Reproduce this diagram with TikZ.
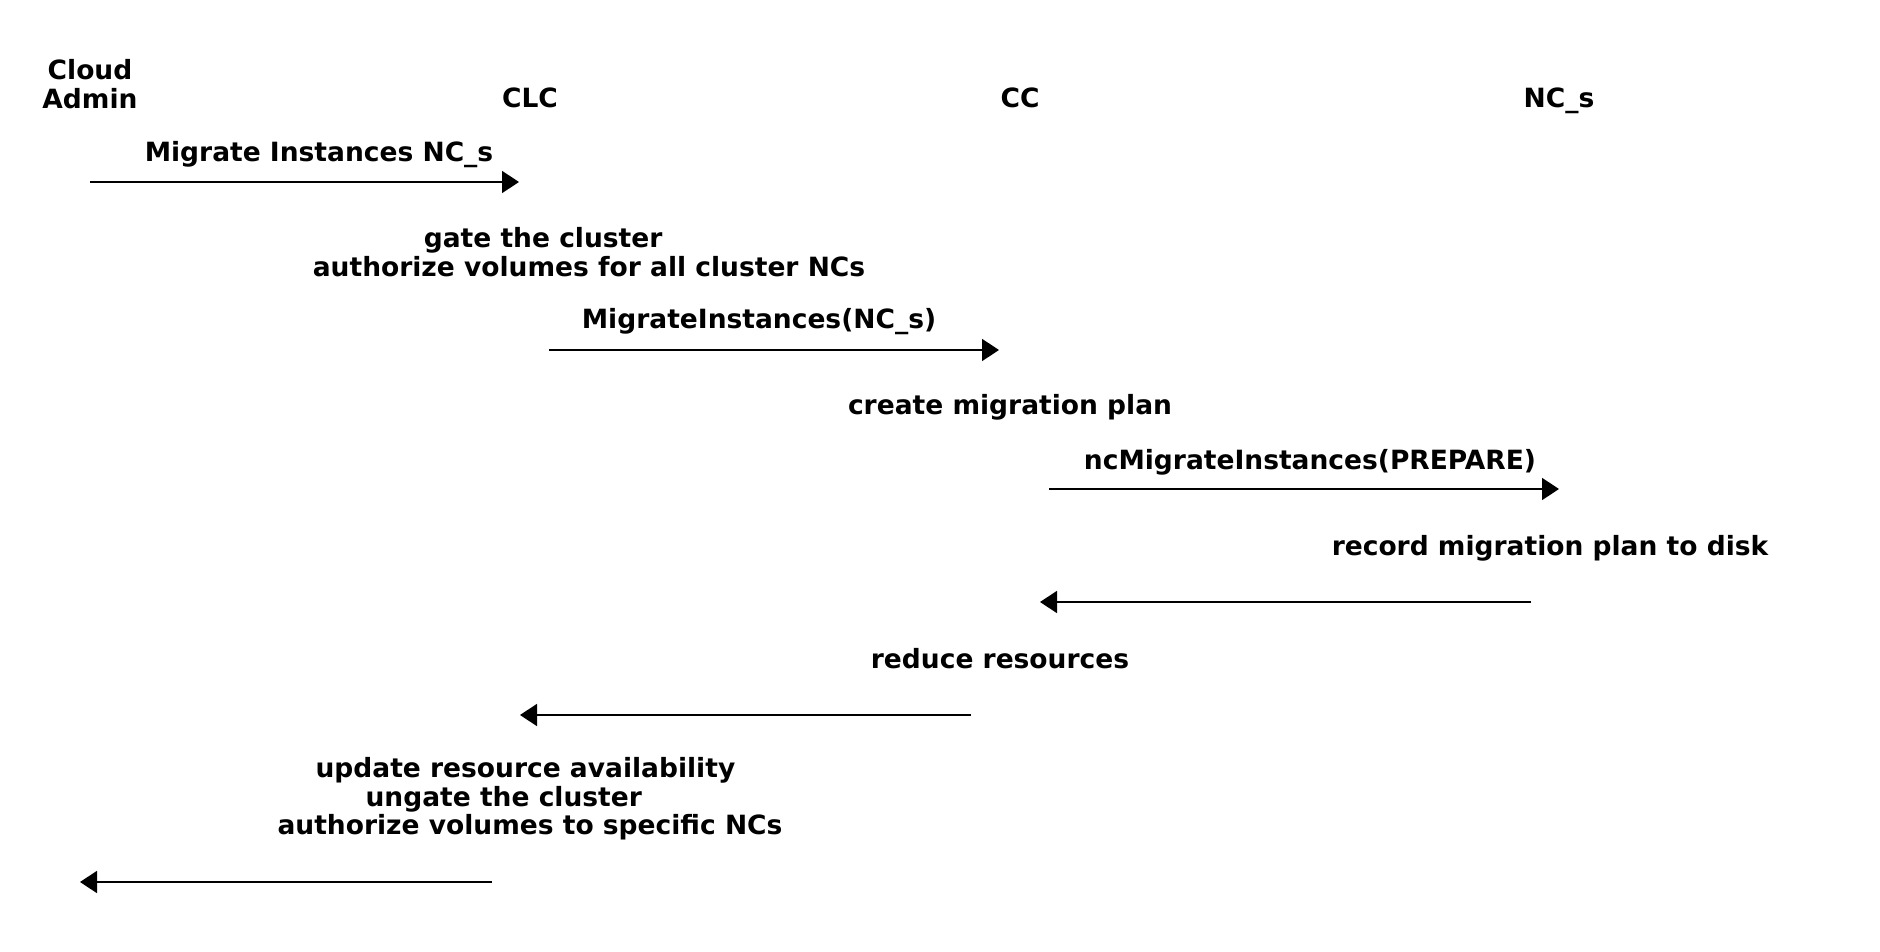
\documentclass[tikz,border=0pt]{standalone}
\usepackage{fontspec}
\setmainfont{DejaVu Sans}
\usetikzlibrary{arrows.meta}

\begin{document}
\begin{tikzpicture}[
            x = 1pt, y = -1pt, % pixel-like units, top down
            > = {Triangle[length=17pt,width=22pt]}, % arrow head style
            msg/.style = {->, line width=1.6pt},
            every node/.style = {font=\bfseries\fontsize{26.5}{28.5}\selectfont, inner sep=0pt}
        ]

        \useasboundingbox (0,0) rectangle (1880,952);

        % actors
        \node[align=center] (admin) at (90,84) {Cloud\\Admin};
        \node (clc) at (530,98) {CLC};
        \node (cc) at (1020,98) {CC};
        \node (ncs) at (1559,101) {NC\_s};

        % message ends
        \coordinate (a1s) at (90,182);   \coordinate (a1e) at (519,182);
        \coordinate (a2s) at (549,350);  \coordinate (a2e) at (999,350);
        \coordinate (a3s) at (1049,489); \coordinate (a3e) at (1559,489);
        \coordinate (a4s) at (1531,602); \coordinate (a4e) at (1040,602);
        \coordinate (a5s) at (971,715);  \coordinate (a5e) at (520,715);
        \coordinate (a6s) at (492,882);  \coordinate (a6e) at (80,882);

        % labels and notes
        \node (m1) at (319,155) {Migrate Instances NC\_s};
        \node[align=left] (n1) at (589,252) {\hspace*{111pt}gate the cluster\\authorize volumes for all cluster NCs};
        \node (m2) at (759,322) {MigrateInstances(NC\_s)};
        \node (n2) at (1010,407) {create migration plan};
        \node (m3) at (1310,462) {ncMigrateInstances(PREPARE)};
        \node (n3) at (1550,548) {record migration plan to disk};
        \node (n4) at (1000,659) {reduce resources};
        \node[align=left] (n5) at (530,799) {\hspace*{38pt}update resource availability\\\hspace*{88pt}ungate the cluster\\authorize volumes to specific NCs};

        \draw[msg] (a1s) -- (a1e);
        \draw[msg] (a2s) -- (a2e);
        \draw[msg] (a3s) -- (a3e);
        \draw[msg] (a4s) -- (a4e);
        \draw[msg] (a5s) -- (a5e);
        \draw[msg] (a6s) -- (a6e);

    \end{tikzpicture}
\end{document}
